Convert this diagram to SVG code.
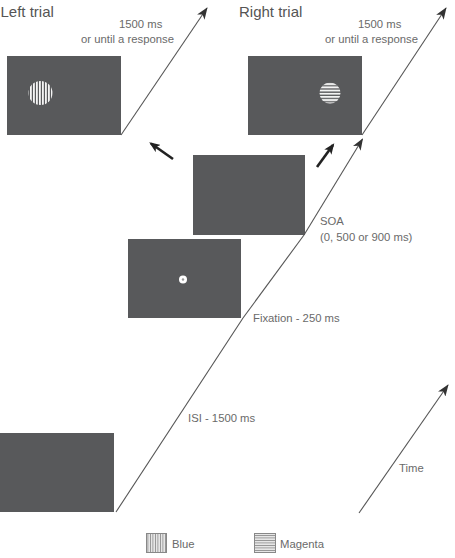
<svg xmlns="http://www.w3.org/2000/svg" width="455" height="558" viewBox="0 0 455 558">
<style>
.scr{fill:#58595b;}
.lbl{font-family:"Liberation Sans",Arial,sans-serif;font-size:11.3px;fill:#6a6a6a;}
.ttl{font-family:"Liberation Sans",Arial,sans-serif;font-size:15px;fill:#555;}
.ln{stroke:#555;stroke-width:1.1;fill:none;}
.thick{stroke:#222;stroke-width:2.6;fill:none;}
</style>
<defs>
<marker id="ah" viewBox="0 0 12 9" refX="11" refY="4.5" markerWidth="12" markerHeight="9" markerUnits="userSpaceOnUse" orient="auto">
<path d="M0,0 L12,4.5 L0,9 L3,4.5 Z" fill="#333"/>
</marker>
<marker id="ahk" viewBox="0 0 10 8" refX="8" refY="4" markerWidth="11" markerHeight="9" markerUnits="userSpaceOnUse" orient="auto">
<path d="M0,0 L10,4 L0,8 L2.5,4 Z" fill="#222"/>
</marker>
<pattern id="vstr" width="3" height="3" patternUnits="userSpaceOnUse">
<rect x="0" y="0" width="1.8" height="3" fill="#f4f4f4"/>
</pattern>
<pattern id="hstr" width="3" height="3.2" patternUnits="userSpaceOnUse">
<rect x="0" y="0" width="3" height="1.9" fill="#f4f4f4"/>
</pattern>
<pattern id="vleg" width="2.5" height="3" patternUnits="userSpaceOnUse">
<rect x="0" y="0" width="2.5" height="3" fill="#e6e6e6"/>
<rect x="0" y="0" width="0.8" height="3" fill="#8a8a8a"/>
</pattern>
<pattern id="hleg" width="3" height="2.5" patternUnits="userSpaceOnUse">
<rect x="0" y="0" width="3" height="2.5" fill="#e6e6e6"/>
<rect x="0" y="0" width="3" height="0.8" fill="#8a8a8a"/>
</pattern>
</defs>

<g id="title-left"><text class="ttl" x="0.5" y="17">Left trial</text></g>
<g id="title-right"><text class="ttl" x="239" y="17">Right trial</text></g>

<g id="left-target">
<rect class="scr" x="7" y="56" width="114" height="79"/>
<circle cx="40.5" cy="93" r="12" fill="url(#vstr)"/>
</g>
<g id="right-target">
<rect class="scr" x="248" y="56" width="114" height="79"/>
<circle cx="330" cy="93" r="10.5" fill="url(#hstr)"/>
</g>
<g id="cue-screen">
<rect class="scr" x="193" y="155" width="112" height="80"/>
</g>
<g id="fixation-screen">
<rect class="scr" x="128" y="239" width="113" height="79"/>
<circle cx="183" cy="279.5" r="4" fill="#fff"/>
<circle cx="183" cy="279.5" r="1.2" fill="#999"/>
</g>
<g id="isi-screen">
<rect class="scr" x="0" y="433" width="114" height="79"/>
</g>

<g id="connectors">
<line class="ln" x1="116" y1="512" x2="243" y2="318"/>
<line class="ln" x1="243" y1="318" x2="304" y2="235"/>
<line class="ln" x1="304" y1="235" x2="362.5" y2="139" marker-end="url(#ah)"/>
<line class="ln" x1="362" y1="135" x2="446" y2="8" marker-end="url(#ah)"/>
<line class="ln" x1="121" y1="135" x2="207" y2="8" marker-end="url(#ah)"/>
<line class="ln" x1="359" y1="513" x2="448" y2="385" marker-end="url(#ah)"/>
<line class="thick" x1="173" y1="159" x2="151" y2="143.5" marker-end="url(#ahk)"/>
<line class="thick" x1="317" y1="167" x2="333" y2="145" marker-end="url(#ahk)"/>
</g>

<g id="labels">
<text class="lbl" x="119" y="28">1500 ms</text>
<text class="lbl" x="81" y="43">or until a response</text>
<text class="lbl" x="358" y="28">1500 ms</text>
<text class="lbl" x="325" y="43">or until a response</text>
<text class="lbl" x="320" y="225">SOA</text>
<text class="lbl" x="320" y="241">(0, 500 or 900 ms)</text>
<text class="lbl" x="253" y="322">Fixation - 250 ms</text>
<text class="lbl" x="188" y="422">ISI - 1500 ms</text>
<text class="lbl" x="399" y="472">Time</text>
</g>

<g id="legend">
<rect x="146.5" y="533.5" width="20" height="19" fill="url(#vleg)" stroke="#888" stroke-width="1"/>
<text class="lbl" x="172" y="548">Blue</text>
<rect x="254.5" y="533.5" width="21" height="19" fill="url(#hleg)" stroke="#888" stroke-width="1"/>
<text class="lbl" x="280" y="548">Magenta</text>
</g>
</svg>
